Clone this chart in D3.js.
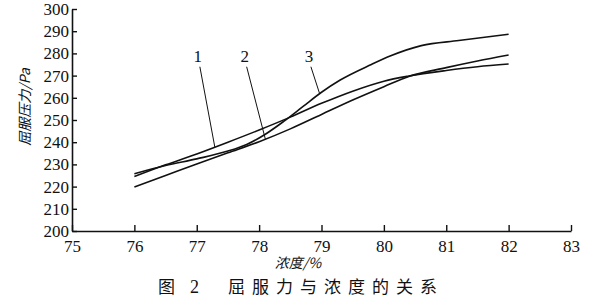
<!DOCTYPE html>
<html>
<head>
<meta charset="utf-8">
<script src="https://cdn.jsdelivr.net/npm/d3@7"></script>
<style>
  body { margin: 0; background: #fff; }
  svg { display: block; }
</style>
</head>
<body>
<div id="chart"></div>
<script>
// tick values
const xTicks = [75, 76, 77, 78, 79, 80, 81, 82, 83];
const yTicks = [200, 210, 220, 230, 240, 250, 260, 270, 280, 290, 300];

// curve 1
const conc1 = [76, 76.5, 77, 77.5, 78, 78.5, 79, 79.5, 80, 80.4, 81, 81.5, 82];
const yield1 = [224.5, 229.8, 234.7, 240, 245.5, 251.3, 257.5, 263, 267.5, 269.8, 272.3, 274, 275.2];
// curve 2
const conc2 = [76, 76.5, 77, 77.5, 78, 78.5, 79, 79.5, 80, 80.4, 81, 81.5, 82];
const yield2 = [219.8, 225, 230.2, 235.2, 240.2, 246, 252.5, 259, 265, 269.6, 273.6, 276.6, 279.3];
// curve 3
const conc3 = [76, 76.5, 77, 77.5, 77.8, 78.1, 78.4, 78.7, 79, 79.3, 79.8, 80.1, 80.6, 81.2, 82];
const yield3 = [225.8, 229.5, 232.5, 236, 239, 243.6, 249.5, 256, 262.5, 268, 275, 278.8, 283.5, 285.8, 288.6];

// curve labels and where their leader lines start / touch the curve
const curveNames = ["1", "2", "3"];
const labelX = [77.05, 77.8, 78.83];
const labelY = 274;
const tipX = [77.29, 78.1, 78.97];

const width = 594, height = 301;

const svg = d3.select("#chart")
    .append("svg")
    .attr("width", width)
    .attr("height", height)
    .style("background", "#fff");

const x = d3.scaleLinear().domain([75, 83]).range([72, 571]);
const y = d3.scaleLinear().domain([200, 300]).range([231, 9]);

const serif = "Liberation Serif";
const cjk = "Noto Sans CJK SC";

// x axis, ticks pointing inward
const xAxis = svg.append("g")
    .attr("transform", "translate(0," + y(200) + ")")
    .call(d3.axisBottom(x).tickValues(xTicks).tickSizeInner(-6).tickSizeOuter(0).tickPadding(9));

// y axis, ticks pointing inward
const yAxis = svg.append("g")
    .attr("transform", "translate(" + x(75) + ",0)")
    .call(d3.axisLeft(y).tickValues(yTicks).tickSizeInner(-5).tickSizeOuter(0).tickPadding(3));

[xAxis, yAxis].forEach(g => {
    g.attr("font-family", serif).attr("font-size", 17);
    g.select(".domain").attr("stroke", "#111").attr("stroke-width", 1.6);
    g.selectAll(".tick line").attr("stroke", "#111").attr("stroke-width", 1.4);
    g.selectAll(".tick text")
        .attr("font-family", serif)
        .attr("font-size", 17)
        .attr("fill", "#111");
});

// curves
const line = d3.line()
    .x(d => x(d[0]))
    .y(d => y(d[1]))
    .curve(d3.curveMonotoneX);

const series = [
    d3.zip(conc1, yield1),
    d3.zip(conc2, yield2),
    d3.zip(conc3, yield3)
];

svg.selectAll("path.curve")
    .data(series)
    .enter()
    .append("path")
    .attr("class", "curve")
    .attr("d", line)
    .attr("fill", "none")
    .attr("stroke", "#111")
    .attr("stroke-width", 1.6);

// find the value of a curve at a concentration (for the leader tips)
function valueAt(pts, c) {
    for (let i = 1; i < pts.length; i++) {
        if (c <= pts[i][0]) {
            const t = (c - pts[i - 1][0]) / (pts[i][0] - pts[i - 1][0]);
            return pts[i - 1][1] + t * (pts[i][1] - pts[i - 1][1]);
        }
    }
    return pts[pts.length - 1][1];
}

// leader lines
svg.selectAll("line.leader")
    .data(curveNames)
    .enter()
    .append("line")
    .attr("class", "leader")
    .attr("x1", (d, i) => x(labelX[i]))
    .attr("y1", y(labelY))
    .attr("x2", (d, i) => x(tipX[i]))
    .attr("y2", (d, i) => y(valueAt(series[i], tipX[i])))
    .attr("stroke", "#111")
    .attr("stroke-width", 1);

// curve numbers
svg.selectAll("text.curve-name")
    .data(curveNames)
    .enter()
    .append("text")
    .attr("class", "curve-name")
    .attr("x", (d, i) => x(labelX[i]) - 2)
    .attr("y", y(labelY) - 5)
    .attr("text-anchor", "middle")
    .attr("font-family", serif)
    .attr("font-size", 17)
    .attr("fill", "#111")
    .text(d => d);

// axis titles
svg.append("text")
    .attr("x", 298)
    .attr("y", 268)
    .attr("text-anchor", "middle")
    .attr("font-family", cjk)
    .attr("font-size", 14)
    .attr("font-style", "italic")
    .attr("fill", "#111")
    .text("浓度/%");

svg.append("text")
    .attr("transform", "translate(30,107) rotate(-90)")
    .attr("text-anchor", "middle")
    .attr("font-family", cjk)
    .attr("font-size", 14)
    .attr("font-style", "italic")
    .attr("fill", "#111")
    .text("屈服压力/Pa");

// figure caption
svg.append("text")
    .attr("x", 158)
    .attr("y", 293)
    .attr("font-family", cjk)
    .attr("font-size", 17)
    .attr("fill", "#111")
    .text("图");

svg.append("text")
    .attr("x", 190)
    .attr("y", 293)
    .attr("font-family", serif)
    .attr("font-size", 18)
    .attr("fill", "#111")
    .text("2");

svg.append("text")
    .attr("x", 228)
    .attr("y", 293)
    .attr("textLength", 209)
    .attr("lengthAdjust", "spacing")
    .attr("font-family", cjk)
    .attr("font-size", 17)
    .attr("fill", "#111")
    .text("屈服力与浓度的关系");
</script>
</body>
</html>
